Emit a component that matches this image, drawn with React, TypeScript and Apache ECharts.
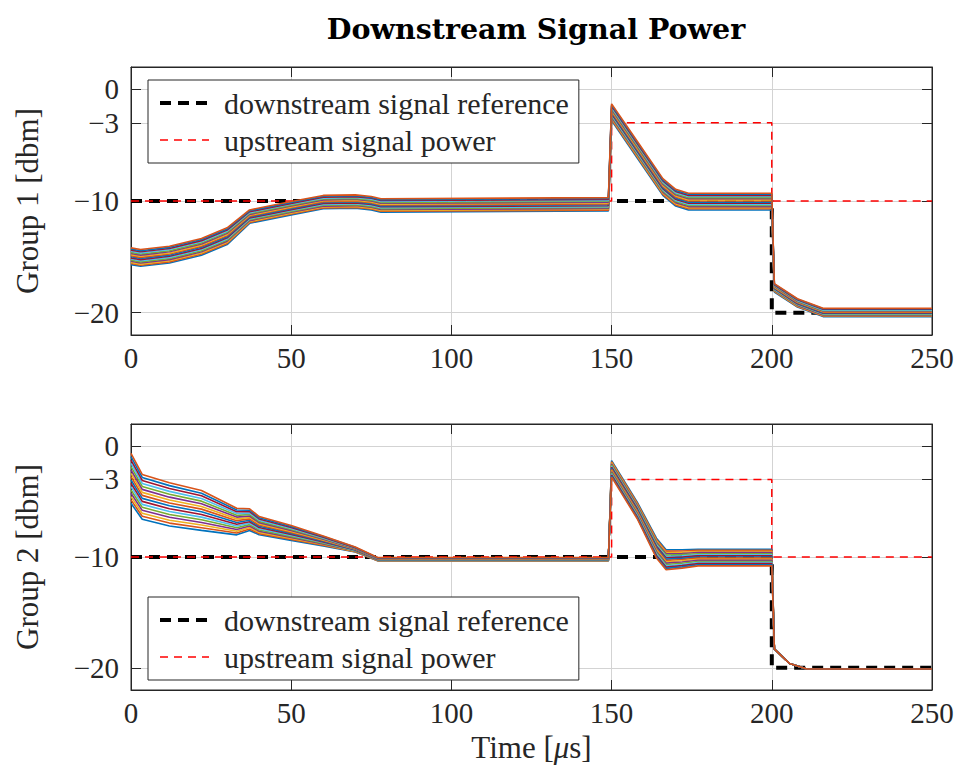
import React, { useEffect, useRef } from 'react';
import * as echarts from 'echarts';

// ---------- data ----------
const TITLE = 'Downstream Signal Power';
const X_TICK_INTERVAL = 50;
const Y_TICKS = [-20, -10, -3, 0];
const LEGEND_NAMES = ['downstream signal reference', 'upstream signal power'];

const REF_DOWN_T = [0, 200, 200, 250];
const REF_DOWN_V = [-10, -10, -20, -20];
const REF_UP_T = [0, 150, 150, 200, 200, 250];
const REF_UP_V = [-10, -10, -3, -3, -10, -10];

// Group 1 time stamps (µs)
const TIME_G1 = [0, 3, 12, 22, 30, 37, 50, 60, 70, 75, 78, 149, 150, 158, 166, 170, 174, 200, 200.8, 208, 216, 250];
const G1_CH01 = [-15.7, -15.85, -15.55, -14.85, -13.9, -12.0, -11.25, -10.7, -10.65, -10.8, -11.0, -10.9, -2.8, -6.15, -9.5, -10.45, -10.8, -10.8, -18.15, -19.5, -20.35, -20.35];
const G1_CH02 = [-15.6, -15.75, -15.45, -14.75, -13.8, -11.92, -11.17, -10.62, -10.57, -10.72, -10.92, -10.82, -2.7, -6.05, -9.4, -10.35, -10.7, -10.7, -18.1, -19.45, -20.3, -20.3];
const G1_CH03 = [-15.5, -15.65, -15.35, -14.65, -13.7, -11.84, -11.09, -10.54, -10.49, -10.64, -10.84, -10.74, -2.6, -5.95, -9.3, -10.25, -10.6, -10.6, -18.05, -19.4, -20.25, -20.25];
const G1_CH04 = [-15.4, -15.55, -15.25, -14.55, -13.6, -11.76, -11.01, -10.46, -10.41, -10.56, -10.76, -10.66, -2.5, -5.85, -9.2, -10.15, -10.5, -10.5, -18.0, -19.35, -20.2, -20.2];
const G1_CH05 = [-15.3, -15.45, -15.15, -14.45, -13.5, -11.68, -10.93, -10.38, -10.33, -10.48, -10.68, -10.58, -2.4, -5.75, -9.1, -10.05, -10.4, -10.4, -17.95, -19.3, -20.15, -20.15];
const G1_CH06 = [-15.2, -15.35, -15.05, -14.35, -13.4, -11.6, -10.85, -10.3, -10.25, -10.4, -10.6, -10.5, -2.3, -5.65, -9.0, -9.95, -10.3, -10.3, -17.9, -19.25, -20.1, -20.1];
const G1_CH07 = [-15.1, -15.25, -14.95, -14.25, -13.3, -11.52, -10.77, -10.22, -10.17, -10.32, -10.52, -10.42, -2.2, -5.55, -8.9, -9.85, -10.2, -10.2, -17.85, -19.2, -20.05, -20.05];
const G1_CH08 = [-15.0, -15.15, -14.85, -14.15, -13.2, -11.44, -10.69, -10.14, -10.09, -10.24, -10.44, -10.34, -2.1, -5.45, -8.8, -9.75, -10.1, -10.1, -17.8, -19.15, -20.0, -20.0];
const G1_CH09 = [-14.9, -15.05, -14.75, -14.05, -13.1, -11.36, -10.61, -10.06, -10.01, -10.16, -10.36, -10.26, -2.0, -5.35, -8.7, -9.65, -10.0, -10.0, -17.75, -19.1, -19.95, -19.95];
const G1_CH10 = [-14.8, -14.95, -14.65, -13.95, -13.0, -11.28, -10.53, -9.98, -9.93, -10.08, -10.28, -10.18, -1.9, -5.25, -8.6, -9.55, -9.9, -9.9, -17.7, -19.05, -19.9, -19.9];
const G1_CH11 = [-14.7, -14.85, -14.55, -13.85, -12.9, -11.2, -10.45, -9.9, -9.85, -10.0, -10.2, -10.1, -1.8, -5.15, -8.5, -9.45, -9.8, -9.8, -17.65, -19.0, -19.85, -19.85];
const G1_CH12 = [-14.6, -14.75, -14.45, -13.75, -12.8, -11.12, -10.37, -9.82, -9.77, -9.92, -10.12, -10.02, -1.7, -5.05, -8.4, -9.35, -9.7, -9.7, -17.6, -18.95, -19.8, -19.8];
const G1_CH13 = [-14.5, -14.65, -14.35, -13.65, -12.7, -11.04, -10.29, -9.74, -9.69, -9.84, -10.04, -9.94, -1.6, -4.95, -8.3, -9.25, -9.6, -9.6, -17.55, -18.9, -19.75, -19.75];
const G1_CH14 = [-14.4, -14.55, -14.25, -13.55, -12.6, -10.96, -10.21, -9.66, -9.61, -9.76, -9.96, -9.86, -1.5, -4.85, -8.2, -9.15, -9.5, -9.5, -17.5, -18.85, -19.7, -19.7];
const G1_CH15 = [-14.3, -14.45, -14.15, -13.45, -12.5, -10.88, -10.13, -9.58, -9.53, -9.68, -9.88, -9.78, -1.4, -4.75, -8.1, -9.05, -9.4, -9.4, -17.45, -18.8, -19.65, -19.65];
const G1_CH16 = [-14.2, -14.35, -14.05, -13.35, -12.4, -10.8, -10.05, -9.5, -9.45, -9.6, -9.8, -9.7, -1.3, -4.65, -8.0, -8.95, -9.3, -9.3, -17.4, -18.75, -19.6, -19.6];

// Group 2 time stamps (µs)
const TIME_G2 = [0, 3.5, 12, 22, 33, 37, 40, 50, 60, 70, 77, 149, 150, 158, 164, 167, 172, 177, 200, 200.8, 205.5, 211, 250];
const G2_CH01 = [-5.15, -6.6, -7.2, -7.6, -8.0, -7.6, -8.0, -8.5, -9.0, -9.55, -10.35, -10.35, -1.3, -5.05, -8.3, -9.35, -9.35, -9.3, -9.3, -18.3, -19.6, -20.1, -20.1];
const G2_CH02 = [-4.85, -6.33, -6.94, -7.36, -7.84, -7.47, -7.89, -8.41, -8.94, -9.52, -10.33, -10.33, -1.4, -5.15, -8.42, -9.47, -9.46, -9.4, -9.4, -18.3, -19.6, -20.1, -20.1];
const G2_CH03 = [-4.55, -6.06, -6.68, -7.12, -7.68, -7.34, -7.78, -8.32, -8.88, -9.49, -10.31, -10.31, -1.5, -5.25, -8.54, -9.59, -9.57, -9.5, -9.5, -18.3, -19.6, -20.1, -20.1];
const G2_CH04 = [-4.25, -5.79, -6.42, -6.88, -7.52, -7.21, -7.67, -8.23, -8.82, -9.46, -10.29, -10.29, -1.6, -5.35, -8.66, -9.71, -9.68, -9.6, -9.6, -18.3, -19.6, -20.1, -20.1];
const G2_CH05 = [-3.95, -5.52, -6.16, -6.64, -7.36, -7.08, -7.56, -8.14, -8.76, -9.43, -10.27, -10.27, -1.7, -5.45, -8.78, -9.83, -9.79, -9.7, -9.7, -18.3, -19.6, -20.1, -20.1];
const G2_CH06 = [-3.65, -5.25, -5.9, -6.4, -7.2, -6.95, -7.45, -8.05, -8.7, -9.4, -10.25, -10.25, -1.8, -5.55, -8.9, -9.95, -9.9, -9.8, -9.8, -18.3, -19.6, -20.1, -20.1];
const G2_CH07 = [-3.35, -4.98, -5.64, -6.16, -7.04, -6.82, -7.34, -7.96, -8.64, -9.37, -10.23, -10.23, -1.9, -5.65, -9.02, -10.07, -10.01, -9.9, -9.9, -18.3, -19.6, -20.1, -20.1];
const G2_CH08 = [-3.05, -4.71, -5.38, -5.92, -6.88, -6.69, -7.23, -7.87, -8.58, -9.34, -10.21, -10.21, -2.0, -5.75, -9.14, -10.19, -10.12, -10.0, -10.0, -18.3, -19.6, -20.1, -20.1];
const G2_CH09 = [-2.75, -4.44, -5.12, -5.68, -6.72, -6.56, -7.12, -7.78, -8.52, -9.31, -10.19, -10.19, -2.1, -5.85, -9.26, -10.31, -10.23, -10.1, -10.1, -18.3, -19.6, -20.1, -20.1];
const G2_CH10 = [-2.45, -4.17, -4.86, -5.44, -6.56, -6.43, -7.01, -7.69, -8.46, -9.28, -10.17, -10.17, -2.2, -5.95, -9.38, -10.43, -10.34, -10.2, -10.2, -18.3, -19.6, -20.1, -20.1];
const G2_CH11 = [-2.15, -3.9, -4.6, -5.2, -6.4, -6.3, -6.9, -7.6, -8.4, -9.25, -10.15, -10.15, -2.3, -6.05, -9.5, -10.55, -10.45, -10.3, -10.3, -18.3, -19.6, -20.1, -20.1];
const G2_CH12 = [-1.85, -3.63, -4.34, -4.96, -6.24, -6.17, -6.79, -7.51, -8.34, -9.22, -10.13, -10.13, -2.4, -6.15, -9.62, -10.67, -10.56, -10.4, -10.4, -18.3, -19.6, -20.1, -20.1];
const G2_CH13 = [-1.55, -3.36, -4.08, -4.72, -6.08, -6.04, -6.68, -7.42, -8.28, -9.19, -10.11, -10.11, -2.5, -6.25, -9.74, -10.79, -10.67, -10.5, -10.5, -18.3, -19.6, -20.1, -20.1];
const G2_CH14 = [-1.25, -3.09, -3.82, -4.48, -5.92, -5.91, -6.57, -7.33, -8.22, -9.16, -10.09, -10.09, -2.6, -6.35, -9.86, -10.91, -10.78, -10.6, -10.6, -18.3, -19.6, -20.1, -20.1];
const G2_CH15 = [-0.95, -2.82, -3.56, -4.24, -5.76, -5.78, -6.46, -7.24, -8.16, -9.13, -10.07, -10.07, -2.7, -6.45, -9.98, -11.03, -10.89, -10.7, -10.7, -18.3, -19.6, -20.1, -20.1];
const G2_CH16 = [-0.65, -2.55, -3.3, -4.0, -5.6, -5.65, -6.35, -7.15, -8.1, -9.1, -10.05, -10.05, -2.8, -6.55, -10.1, -11.15, -11.0, -10.8, -10.8, -18.3, -19.6, -20.1, -20.1];

const G1_LINES = [G1_CH01, G1_CH02, G1_CH03, G1_CH04, G1_CH05, G1_CH06, G1_CH07, G1_CH08, G1_CH09, G1_CH10, G1_CH11, G1_CH12, G1_CH13, G1_CH14, G1_CH15, G1_CH16];
const G2_LINES = [G2_CH01, G2_CH02, G2_CH03, G2_CH04, G2_CH05, G2_CH06, G2_CH07, G2_CH08, G2_CH09, G2_CH10, G2_CH11, G2_CH12, G2_CH13, G2_CH14, G2_CH15, G2_CH16];

const COLORS = ['#0072BD', '#D95319', '#EDB120', '#7E2F8E', '#77AC30', '#4DBEEE', '#A2142F'];

// ---------- styles ----------
const SERIF = 'Liberation Serif';
const AX = '#262626';
const GRIDC = '#d3d3d3';
const DOWN_STYLE = { color: '#000', width: 4, type: [11, 7] as number[] };
const UP_STYLE = { color: '#ff0000', width: 1.5, type: [8, 6] as number[] };

const fmtY = (v: number) => (v < 0 ? '\u2212' + Math.abs(v) : String(v));

function buildOption() {
  const grids = [
    { left: 131, top: 67, width: 801, height: 268 },
    { left: 131, top: 424, width: 801, height: 266 },
  ].map((g) => ({ ...g, show: true, borderColor: AX, borderWidth: 1, backgroundColor: '#fff' }));

  const xAxes: any[] = [];
  const yAxes: any[] = [];
  [0, 1].forEach((gi) => {
    xAxes.push({
      type: 'value', gridIndex: gi, position: 'bottom', min: 0, max: 250, interval: X_TICK_INTERVAL,
      axisLine: { show: true, onZero: false, lineStyle: { color: AX, width: 1 } },
      axisTick: { show: true, inside: true, length: 10, lineStyle: { color: AX } },
      axisLabel: { show: true, fontFamily: SERIF, fontSize: 29, color: AX, margin: 8 },
      splitLine: { show: true, lineStyle: { color: GRIDC, width: 1 } },
      name: gi === 1 ? 'Time [{it|\u03bc}s]' : '',
      nameLocation: 'middle', nameGap: 42,
      nameTextStyle: {
        fontFamily: SERIF, fontSize: 31, color: AX,
        rich: { it: { fontFamily: SERIF, fontSize: 31, fontStyle: 'italic', color: AX } },
      },
    });
  });
  [0, 1].forEach((gi) => {
    yAxes.push({
      type: 'value', gridIndex: gi, position: 'left', min: -22, max: 2,
      axisLine: { show: true, onZero: false, lineStyle: { color: AX, width: 1 } },
      axisTick: { show: true, inside: true, length: 10, customValues: Y_TICKS, lineStyle: { color: AX } },
      axisLabel: { show: true, customValues: Y_TICKS, formatter: fmtY, fontFamily: SERIF, fontSize: 29, color: AX, margin: 12 },
      splitLine: { show: true, lineStyle: { color: GRIDC, width: 1 } },
      name: gi === 0 ? 'Group 1 [dbm]' : 'Group 2 [dbm]',
      nameLocation: 'middle', nameRotate: 90, nameGap: 88,
      nameTextStyle: { fontFamily: SERIF, fontSize: 31, color: AX },
    });
  });
  // mirrored ticks on top / right
  [0, 1].forEach((gi) => {
    xAxes.push({
      type: 'value', gridIndex: gi, position: 'top', min: 0, max: 250, interval: X_TICK_INTERVAL,
      axisLine: { show: true, onZero: false, lineStyle: { color: AX, width: 1 } },
      axisTick: { show: true, inside: true, length: 10, lineStyle: { color: AX } },
      axisLabel: { show: false }, splitLine: { show: false },
    });
    yAxes.push({
      type: 'value', gridIndex: gi, position: 'right', min: -22, max: 2,
      axisLine: { show: true, onZero: false, lineStyle: { color: AX, width: 1 } },
      axisTick: { show: true, inside: true, length: 10, customValues: Y_TICKS, lineStyle: { color: AX } },
      axisLabel: { show: false, customValues: Y_TICKS }, splitLine: { show: false },
    });
  });

  const series: any[] = [];
  [0, 1].forEach((gi) => {
    series.push({
      type: 'line', name: LEGEND_NAMES[0], xAxisIndex: gi, yAxisIndex: gi,
      data: REF_DOWN_T.map((t, k) => [t, REF_DOWN_V[k]]),
      showSymbol: false, symbol: 'none', silent: true,
      lineStyle: DOWN_STYLE, itemStyle: { color: '#000' },
    });
    series.push({
      type: 'line', name: LEGEND_NAMES[1], xAxisIndex: gi, yAxisIndex: gi,
      data: REF_UP_T.map((t, k) => [t, REF_UP_V[k]]),
      showSymbol: false, symbol: 'none', silent: true,
      lineStyle: UP_STYLE, itemStyle: { color: '#ff0000' },
    });
    const lines = gi === 0 ? G1_LINES : G2_LINES;
    const times = gi === 0 ? TIME_G1 : TIME_G2;
    lines.forEach((vals, i) => {
      series.push({
        type: 'line', name: `Group ${gi + 1} channel ${i + 1}`, xAxisIndex: gi, yAxisIndex: gi,
        data: times.map((t, k) => [t, vals[k]]),
        showSymbol: false, symbol: 'none', silent: true,
        lineStyle: { color: COLORS[i % COLORS.length], width: 1.6 },
        itemStyle: { color: COLORS[i % COLORS.length] },
      });
    });
  });

  const legendBase = {
    orient: 'vertical', left: 148, selectedMode: false,
    data: [
      { name: LEGEND_NAMES[0], lineStyle: DOWN_STYLE },
      { name: LEGEND_NAMES[1], lineStyle: UP_STYLE },
    ],
    itemWidth: 49, itemHeight: 14, itemGap: 7,
    padding: [8, 10, 8, 10],
    borderColor: AX, borderWidth: 1, backgroundColor: '#fff',
    itemStyle: { opacity: 0 },
    textStyle: { fontFamily: SERIF, fontSize: 30, color: AX, lineHeight: 30, padding: [0, 0, 0, 10] },
  };

  return {
    animation: false,
    backgroundColor: '#fff',
    title: {
      text: TITLE, left: 531, top: 9, textAlign: 'center',
      textStyle: { fontFamily: 'DejaVu Serif', fontWeight: 'bold', fontSize: 28.5, color: '#000' },
    },
    legend: [
      { ...legendBase, top: 80 },
      { ...legendBase, top: 597 },
    ],
    grid: grids,
    xAxis: xAxes,
    yAxis: yAxes,
    series,
  };
}

export default function App() {
  const ref = useRef<HTMLDivElement>(null);
  useEffect(() => {
    if (!ref.current) return;
    const chart = echarts.init(ref.current, undefined, { renderer: 'svg' });
    chart.setOption(buildOption() as any);
    return () => chart.dispose();
  }, []);
  return <div ref={ref} style={{ position: 'absolute', left: 0, top: 0, width: 960, height: 776 }} />;
}
